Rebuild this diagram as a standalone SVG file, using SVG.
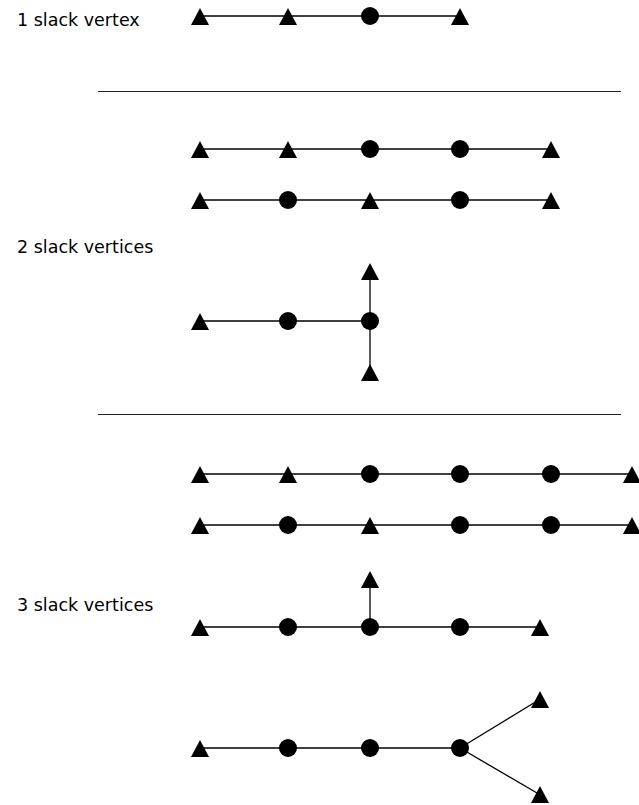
<svg xmlns="http://www.w3.org/2000/svg" width="639" height="805" viewBox="0 0 639 805">
<style>
.lbl{font-family:"DejaVu Sans","Liberation Sans",sans-serif;font-size:17.5px;fill:#000}
.e{stroke:#000;stroke-width:1.3;fill:none}
.sep{stroke:#222;stroke-width:1}
.c{fill:#000}
</style>
<defs>
<path id="tri" d="M0,-8 L9,9 L-9,9 Z" fill="#000"/>
<circle id="dot" r="9" fill="#000"/>
</defs>
<rect width="639" height="805" fill="#fff"/>
<text class="lbl" x="17" y="26">1 slack vertex</text>
<text class="lbl" x="17" y="253">2 slack vertices</text>
<text class="lbl" x="17" y="611">3 slack vertices</text>
<g id="separators">
<line class="sep" x1="98" y1="91.5" x2="621" y2="91.5"/>
<line class="sep" x1="98" y1="414.5" x2="621" y2="414.5"/>
</g>
<g id="connectors">
<line class="e" x1="200" y1="16" x2="460" y2="16"/>
<line class="e" x1="200" y1="149" x2="551" y2="149"/>
<line class="e" x1="200" y1="200" x2="551" y2="200"/>
<line class="e" x1="200" y1="321" x2="370" y2="321"/>
<line class="e" x1="370" y1="272" x2="370" y2="372"/>
<line class="e" x1="200" y1="474" x2="632" y2="474"/>
<line class="e" x1="200" y1="525" x2="632" y2="525"/>
<line class="e" x1="200" y1="627" x2="540" y2="627"/>
<line class="e" x1="370" y1="580" x2="370" y2="627"/>
<line class="e" x1="200" y1="748" x2="460" y2="748"/>
<line class="e" x1="460" y1="748" x2="537" y2="701"/>
<line class="e" x1="460" y1="748" x2="537" y2="793"/>
</g>
<g id="row1">
<use id="r1n1" href="#tri" x="200" y="16"/>
<use id="r1n2" href="#tri" x="288" y="16"/>
<use id="r1n3" href="#dot" x="370" y="16"/>
<use id="r1n4" href="#tri" x="460" y="16"/>
</g>
<g id="row2a">
<use id="r2an1" href="#tri" x="200" y="149"/>
<use id="r2an2" href="#tri" x="288" y="149"/>
<use id="r2an3" href="#dot" x="370" y="149"/>
<use id="r2an4" href="#dot" x="460" y="149"/>
<use id="r2an5" href="#tri" x="551" y="149"/>
</g>
<g id="row2b">
<use id="r2bn1" href="#tri" x="200" y="200"/>
<use id="r2bn2" href="#dot" x="288" y="200"/>
<use id="r2bn3" href="#tri" x="370" y="200"/>
<use id="r2bn4" href="#dot" x="460" y="200"/>
<use id="r2bn5" href="#tri" x="551" y="200"/>
</g>
<g id="row2c">
<use id="r2cn1" href="#tri" x="200" y="321"/>
<use id="r2cn2" href="#dot" x="288" y="321"/>
<use id="r2cn3" href="#dot" x="370" y="321"/>
<use id="r2cn4" href="#tri" x="370" y="271"/>
<use id="r2cn5" href="#tri" x="370" y="372"/>
</g>
<g id="row3a">
<use id="r3an1" href="#tri" x="200" y="474"/>
<use id="r3an2" href="#tri" x="288" y="474"/>
<use id="r3an3" href="#dot" x="370" y="474"/>
<use id="r3an4" href="#dot" x="460" y="474"/>
<use id="r3an5" href="#dot" x="551" y="474"/>
<use id="r3an6" href="#tri" x="632" y="474"/>
</g>
<g id="row3b">
<use id="r3bn1" href="#tri" x="200" y="525"/>
<use id="r3bn2" href="#dot" x="288" y="525"/>
<use id="r3bn3" href="#tri" x="370" y="525"/>
<use id="r3bn4" href="#dot" x="460" y="525"/>
<use id="r3bn5" href="#dot" x="551" y="525"/>
<use id="r3bn6" href="#tri" x="632" y="525"/>
</g>
<g id="row3c">
<use id="r3cn1" href="#tri" x="200" y="627"/>
<use id="r3cn2" href="#dot" x="288" y="627"/>
<use id="r3cn3" href="#dot" x="370" y="627"/>
<use id="r3cn4" href="#dot" x="460" y="627"/>
<use id="r3cn5" href="#tri" x="540" y="627"/>
<use id="r3cn6" href="#tri" x="370" y="579"/>
</g>
<g id="row3d">
<use id="r3dn1" href="#tri" x="200" y="748"/>
<use id="r3dn2" href="#dot" x="288" y="748"/>
<use id="r3dn3" href="#dot" x="370" y="748"/>
<use id="r3dn4" href="#dot" x="460" y="748"/>
<use id="r3dn5" href="#tri" x="540" y="699"/>
<use id="r3dn6" href="#tri" x="540" y="794"/>
</g>
</svg>
